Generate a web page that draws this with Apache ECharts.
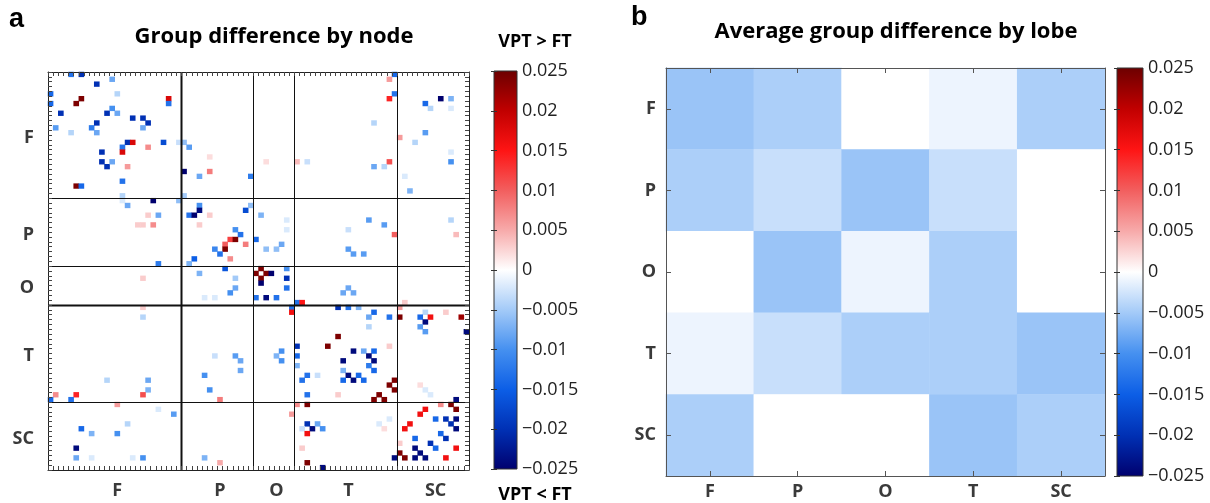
<!DOCTYPE html>
<html>
<head>
<meta charset="utf-8">
<script src="https://cdn.jsdelivr.net/npm/echarts@6/dist/echarts.min.js"></script>
<style>
    html, body { margin: 0; padding: 0; background: #fff; }
    #main { width: 1210px; height: 503px; }
</style>
</head>
<body>
<div id="main"></div>
<script>
    // lobes and node counts (82 nodes)
    const lobeNames = ['F', 'P', 'O', 'T', 'SC'];
    const lobeSizes = [26, 14, 8, 20, 14];

    // colour scale, from -0.025 up to 0.025 in steps of 0.005
    const scaleMin = -0.025;
    const scaleMax = 0.025;
    const scaleStep = 0.005;
    const scaleColors = ['#00006e', '#0030b4', '#0c5ee6', '#4590f0', '#a3caf8', '#ffffff',
                         '#f7aaaa', '#f25e5e', '#fe1414', '#c00000', '#6c0000'];

    // node-level group difference: [col, row, value], only non-zero cells
    const nodeDiff = [
        [4,0,-0.013],[6,0,-0.02],[9,2,-0.02],[12,1,-0.008],[0,4,-0.014],[13,4,-0.004],[6,5,0.024],[5,6,0.024],
        [0,6,-0.014],[23,5,0.018],[23,6,-0.013],[2,8,-0.02],[11,8,-0.02],[12,7,-0.01],[13,8,-0.008],[16,9,-0.02],
        [18,9,-0.02],[19,10,-0.02],[18,11,-0.008],[1,11,-0.009],[8,11,-0.012],[9,10,-0.02],[9,12,-0.008],[4,12,-0.004],
        [15,14,-0.02],[16,14,0.018],[14,15,-0.013],[14,16,0.018],[19,15,0.007],[22,14,-0.017],[10,16,-0.02],[10,18,-0.02],
        [11,19,-0.02],[12,18,-0.008],[15,19,0.006],[14,22,-0.013],[5,23,0.024],[6,23,-0.014],[14,25,-0.004],[14,26,-0.002],
        [15,27,-0.008],[20,26,-0.025],[25,26,-0.006],[26,25,-0.005],[21,29,-0.008],[19,29,0.003],[17,31,0.003],[18,31,0.003],
        [20,31,0.007],[21,39,-0.012],
        [25,14,-0.003],[26,14,-0.006],[27,15,-0.009],[26,20,-0.025],[29,21,-0.008],[31,20,0.008],[31,17,0.002],[39,21,-0.012],
        [42,18,0.002],[29,27,-0.01],[27,29,-0.013],[28,29,-0.025],[29,28,-0.024],[31,29,0.003],[29,31,0.003],[38,28,-0.017],
        [39,27,-0.006],[41,29,-0.007],[36,32,-0.01],[37,33,-0.013],[35,34,0.012],[36,34,0.024],[34,35,0.01],[34,36,0.024],
        [38,35,0.008],[40,34,-0.014],[32,36,-0.011],[33,37,-0.013],[28,38,-0.015],[27,39,-0.007],[35,38,0.007],[42,36,-0.006],
        [44,36,-0.006],[45,35,-0.008],[46,30,-0.002],[46,32,-0.002],
        [67,0,-0.014],[66,1,0.006],[67,4,-0.013],[66,5,0.014],[73,6,-0.014],[76,5,-0.025],[78,5,-0.007],[74,7,-0.004],
        [78,7,-0.002],[63,10,-0.004],[73,12,-0.009],[71,14,-0.004],[68,13,0.006],[78,16,-0.002],[78,18,-0.01],[66,18,0.011],
        [63,19,-0.008],[65,19,-0.004],[48,18,0.004],[50,18,-0.003],[69,21,-0.002],[70,24,-0.007],
        [62,30,-0.009],[65,31,-0.009],[67,33,0.01],[58,32,-0.003],[58,36,-0.009],[59,37,-0.009],[61,37,-0.009],[78,30,-0.004],
        [79,33,0.004],
        [41,40,0.024],[40,41,0.024],[42,41,0.024],[43,41,-0.025],[41,42,0.024],[41,43,-0.025],[46,40,-0.01],[46,42,-0.02],
        [46,44,-0.013],[40,46,-0.013],[42,46,-0.024],[44,46,-0.013],[36,42,-0.005],[36,44,-0.008],[35,45,-0.01],[30,46,-0.002],
        [32,46,-0.002],[29,41,-0.007],[34,40,-0.016],[58,44,-0.008],[57,45,-0.008],[59,45,-0.008],[48,47,-0.013],[49,47,0.015],
        [69,47,0.003],[18,42,0.003],
        [47,48,-0.013],[47,49,0.016],[56,48,-0.02],[58,48,-0.013],[60,48,-0.007],[68,48,0.006],[63,49,-0.014],[62,50,-0.008],
        [66,50,-0.013],[62,52,-0.004],[68,50,0.024],[73,49,-0.004],[72,50,-0.014],[73,51,-0.024],[74,50,0.016],[72,52,-0.009],
        [73,53,-0.009],[77,49,0.003],[80,50,0.022],[81,53,-0.024],[56,54,0.024],[54,56,0.024],[48,56,-0.02],[48,58,-0.014],
        [48,60,-0.007],[59,57,-0.024],[61,57,-0.008],[63,57,-0.014],[62,58,-0.024],[63,59,-0.024],[62,60,-0.012],[63,61,-0.014],
        [57,59,-0.024],[57,61,-0.007],[58,62,-0.024],[59,63,-0.024],[60,62,-0.014],[61,63,-0.014],[57,63,-0.014],[50,62,-0.013],
        [49,63,-0.013],[52,62,-0.003],[50,66,-0.013],[56,66,0.003],[66,56,0.003],[67,63,0.024],[66,64,0.024],[67,65,0.024],
        [64,66,0.024],[63,67,0.024],[65,67,0.024],[72,64,0.002],[73,65,-0.002],[74,66,-0.002],[45,57,-0.01],[44,58,-0.007],
        [45,59,-0.01],[18,48,0.003],[18,50,-0.004],[32,58,-0.003],[36,58,-0.009],[37,59,-0.008],[37,61,-0.008],[30,62,-0.01],
        [31,65,-0.01],[11,63,-0.004],[19,63,-0.008],[19,65,-0.007],[18,66,0.011],[1,66,0.007],[5,66,0.014],[0,67,-0.014],
        [4,67,-0.013],[79,67,-0.024],[33,67,0.008],
        [13,68,0.006],[21,69,-0.002],[24,70,-0.009],[15,72,-0.004],[6,73,-0.014],[8,74,-0.007],[13,74,-0.01],[5,77,-0.024],
        [5,79,-0.008],[8,79,-0.002],[16,79,-0.002],[18,79,-0.01],[30,79,-0.007],[33,80,0.005],
        [47,70,0.006],[48,68,0.007],[50,68,0.024],[50,72,-0.02],[51,73,-0.024],[52,72,-0.008],[53,73,-0.01],[49,73,-0.003],
        [50,74,0.016],[49,77,0.003],[50,80,0.024],[53,81,-0.024],[66,71,-0.002],[64,72,-0.002],[65,73,0.002],
        [76,68,0.007],[78,68,0.024],[79,69,0.024],[73,69,0.016],[72,70,0.016],[75,71,-0.014],[77,71,-0.02],[78,72,-0.02],
        [79,71,-0.024],[79,73,-0.024],[70,72,0.016],[69,73,0.016],[71,75,-0.014],[76,74,-0.014],[77,75,-0.02],[74,76,-0.02],
        [75,77,-0.014],[71,77,-0.024],[72,78,-0.024],[71,79,-0.024],[73,79,-0.024],[68,76,0.003],[68,78,0.024],[69,79,0.024],
        [67,79,-0.024],[77,79,0.016],[79,77,0.016]
    ];

    // lobe-level average difference, rows = y lobe, cols = x lobe
    const lobeDiff = [
        [-0.0055, -0.0045, 0, -0.001, -0.0045],
        [-0.0045, -0.003, -0.0055, -0.003, 0],
        [0, -0.0055, -0.001, -0.0045, 0],
        [-0.001, -0.003, -0.0045, -0.0045, -0.0055],
        [-0.0045, 0, 0, -0.0055, -0.0045]
    ];

    // ---- helpers built from the arrays above ----
    const nodeIds = [];
    const lobeStarts = [];
    lobeSizes.forEach(function (n, k) {
        lobeStarts.push(nodeIds.length);
        for (let i = 0; i < n; i++) nodeIds.push(lobeNames[k] + (i + 1));
    });
    const lobeLabelAt = {};
    lobeSizes.forEach(function (n, k) {
        lobeLabelAt[lobeStarts[k] + Math.floor(n / 2)] = lobeNames[k];
    });
    const boundaryData = [];
    lobeStarts.slice(1).forEach(function (b) {
        boundaryData.push([b, 0]);   // vertical
        boundaryData.push([b, 1]);   // horizontal
    });
    const lobeCells = [];
    lobeDiff.forEach(function (row, r) {
        row.forEach(function (v, c) { lobeCells.push([c, r, v]); });
    });

    const tickFmt = function (v) {
        const n = parseFloat(v.toFixed(3));
        return n < 0 ? '\u2212' + Math.abs(n) : String(n);
    };
    const barStops = scaleColors.slice().reverse().map(function (c, i, arr) {
        return { offset: i / (arr.length - 1), color: c };
    });

    const labelFont = { fontFamily: 'Open Sans', fontWeight: 'bold', fontSize: 18, color: '#3a3a3a' };
    const nodeLabel = Object.assign({
        interval: function (i) { return lobeLabelAt[i] !== undefined; },
        formatter: function (v, i) { return lobeLabelAt[i] || ''; }
    }, labelFont);

    const chart = echarts.init(document.getElementById('main'));

    const catAxis = function (gridIndex, data, position, extra) {
        return Object.assign({
            type: 'category', gridIndex: gridIndex, data: data, position: position, z: 5,
            axisLine: { show: true, lineStyle: { color: '#222', width: 1 } },
            axisTick: { show: true, inside: true, length: 4, interval: 0, lineStyle: { color: '#444' } },
            axisLabel: { show: false },
            splitLine: { show: false }
        }, extra || {});
    };
    const barAxis = function (gridIndex, position, showLabel) {
        return {
            type: 'value', gridIndex: gridIndex, position: position, z: 5,
            min: scaleMin, max: scaleMax, interval: scaleStep,
            axisLine: { show: false },
            axisTick: { show: true, inside: true, length: 3, lineStyle: { color: '#333' } },
            axisLabel: showLabel ? {
                show: true, margin: 5, formatter: tickFmt,
                fontFamily: 'Open Sans', fontSize: 18, color: '#222'
            } : { show: false },
            splitLine: { show: false }
        };
    };
    const hiddenX = function (gridIndex) {
        return { type: 'value', gridIndex: gridIndex, min: 0, max: 1, show: false };
    };
    const colorBar = function (axisIndex) {
        return {
            type: 'custom', xAxisIndex: axisIndex[0], yAxisIndex: axisIndex[1], silent: true,
            data: [[0, 0]],
            renderItem: function (params) {
                const cs = params.coordSys;
                return {
                    type: 'rect',
                    shape: { x: cs.x, y: cs.y, width: cs.width, height: cs.height },
                    style: {
                        fill: new echarts.graphic.LinearGradient(0, 0, 0, 1, barStops),
                        stroke: '#333', lineWidth: 1
                    }
                };
            }
        };
    };
    const lobeAxisStyle = {
        axisLine: { show: true, lineStyle: { color: '#555' } },
        axisTick: { show: true, inside: true, length: 5, alignWithLabel: true, lineStyle: { color: '#555' } }
    };

    const option = {
        backgroundColor: '#fff',
        animation: false,
        grid: [
            { left: 48, top: 72, width: 421, height: 398 },
            { left: 494, top: 71, width: 23, height: 398 },
            { left: 666, top: 68, width: 439, height: 408 },
            { left: 1117, top: 68, width: 26, height: 408 }
        ],
        xAxis: [
            catAxis(0, nodeIds, 'bottom', { axisLabel: Object.assign({ show: true, margin: 12 }, nodeLabel) }),
            catAxis(0, nodeIds, 'top'),
            hiddenX(1),
            catAxis(2, lobeNames, 'bottom', Object.assign({
                axisLabel: Object.assign({ show: true, margin: 7 }, labelFont)
            }, lobeAxisStyle)),
            catAxis(2, lobeNames, 'top', lobeAxisStyle),
            hiddenX(3)
        ],
        yAxis: [
            catAxis(0, nodeIds, 'left', { inverse: true, axisLabel: Object.assign({ show: true, margin: 14 }, nodeLabel) }),
            catAxis(0, nodeIds, 'right', { inverse: true }),
            barAxis(1, 'right', true),
            barAxis(1, 'left', false),
            catAxis(2, lobeNames, 'left', Object.assign({
                inverse: true,
                axisLabel: Object.assign({ show: true, margin: 10 }, labelFont)
            }, lobeAxisStyle)),
            catAxis(2, lobeNames, 'right', Object.assign({ inverse: true }, lobeAxisStyle)),
            barAxis(3, 'right', true),
            barAxis(3, 'left', false)
        ],
        visualMap: [{
            type: 'continuous', show: false, seriesIndex: [0, 3], dimension: 2,
            min: scaleMin, max: scaleMax,
            inRange: { color: scaleColors }
        }],
        series: [
            {
                type: 'heatmap', xAxisIndex: 0, yAxisIndex: 0, data: nodeDiff,
                emphasis: { disabled: true }, silent: true
            },
            {
                type: 'custom', xAxisIndex: 0, yAxisIndex: 0, silent: true, clip: false, z: 4,
                data: boundaryData,
                renderItem: function (params, api) {
                    const cs = params.coordSys;
                    const b = api.value(0);
                    const p = api.coord([b, b]);
                    const sz = api.size([1, 1]);
                    // the F|P column line and the O|T row line are drawn heavier in the figure
                    if (api.value(1) === 0) {
                        const x = Math.round(p[0] - sz[0] / 2) + 0.5;
                        return { type: 'line', shape: { x1: x, y1: cs.y, x2: x, y2: cs.y + cs.height },
                                 style: { stroke: '#111', lineWidth: b === 26 ? 2 : 1 } };
                    }
                    const y = Math.round(p[1] - sz[1] / 2) + 0.5;
                    return { type: 'line', shape: { x1: cs.x, y1: y, x2: cs.x + cs.width, y2: y },
                             style: { stroke: '#111', lineWidth: b === 48 ? 2 : 1 } };
                }
            },
            colorBar([2, 2]),
            {
                type: 'heatmap', xAxisIndex: 3, yAxisIndex: 4, data: lobeCells,
                emphasis: { disabled: true }, silent: true
            },
            colorBar([5, 6])
        ],
        graphic: [
            { type: 'text', x: 9, y: 6, style: { text: 'a', font: 'bold 27px "Liberation Sans"', fill: '#000' } },
            { type: 'text', x: 274, y: 37, style: { text: 'Group difference by node', textAlign: 'center', textVerticalAlign: 'middle',
                font: 'bold 22px "Open Sans"', fill: '#000' } },
            { type: 'text', x: 535, y: 42, style: { text: 'VPT > FT', textAlign: 'center', textVerticalAlign: 'middle',
                font: 'bold 18px "Open Sans"', fill: '#000' } },
            { type: 'text', x: 535, y: 495, style: { text: 'VPT < FT', textAlign: 'center', textVerticalAlign: 'middle',
                font: 'bold 18px "Open Sans"', fill: '#000' } },
            { type: 'text', x: 631, y: 4, style: { text: 'b', font: 'bold 27px "Liberation Sans"', fill: '#000' } },
            { type: 'text', x: 896, y: 32, style: { text: 'Average group difference by lobe', textAlign: 'center', textVerticalAlign: 'middle',
                font: 'bold 22px "Open Sans"', fill: '#000' } }
        ]
    };

    chart.setOption(option);
</script>
</body>
</html>
